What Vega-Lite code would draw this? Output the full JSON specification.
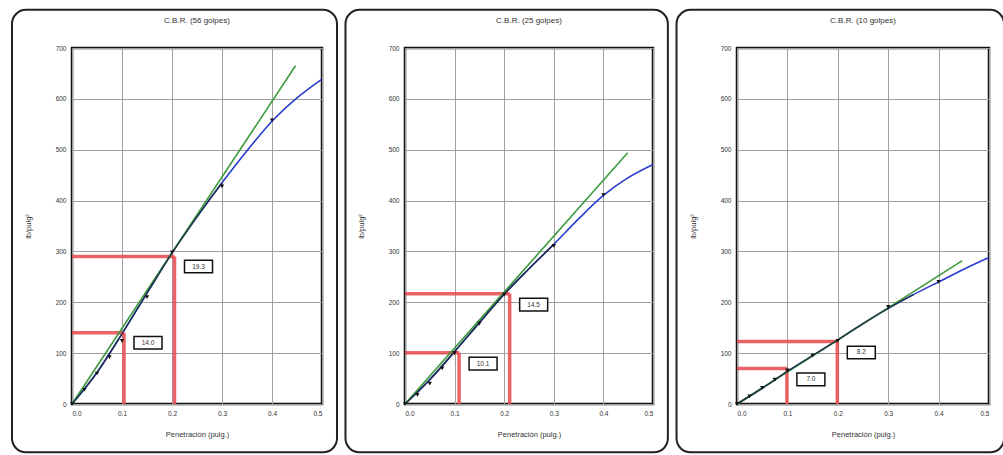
{
  "$schema": "https://vega.github.io/schema/vega-lite/v6.json",
  "padding": {"left": 9, "top": 7, "right": 0, "bottom": 0},
  "background": "white",
  "spacing": 3,
  "datasets": {
    "ensayo": [
      {"panel": "56", "pen": 0, "carga": 0}, {"panel": "56", "pen": 0.025, "carga": 28}, {"panel": "56", "pen": 0.05, "carga": 60}, {"panel": "56", "pen": 0.075, "carga": 92}, {"panel": "56", "pen": 0.1, "carga": 124}, {"panel": "56", "pen": 0.15, "carga": 210}, {"panel": "56", "pen": 0.2, "carga": 298}, {"panel": "56", "pen": 0.3, "carga": 428}, {"panel": "56", "pen": 0.4, "carga": 558},
      {"panel": "25", "pen": 0, "carga": 0}, {"panel": "25", "pen": 0.025, "carga": 18}, {"panel": "25", "pen": 0.05, "carga": 40}, {"panel": "25", "pen": 0.075, "carga": 70}, {"panel": "25", "pen": 0.1, "carga": 100}, {"panel": "25", "pen": 0.15, "carga": 158}, {"panel": "25", "pen": 0.2, "carga": 215}, {"panel": "25", "pen": 0.3, "carga": 311}, {"panel": "25", "pen": 0.4, "carga": 411},
      {"panel": "10", "pen": 0, "carga": 0}, {"panel": "10", "pen": 0.025, "carga": 15}, {"panel": "10", "pen": 0.05, "carga": 32}, {"panel": "10", "pen": 0.075, "carga": 48}, {"panel": "10", "pen": 0.1, "carga": 66}, {"panel": "10", "pen": 0.15, "carga": 95}, {"panel": "10", "pen": 0.2, "carga": 124}, {"panel": "10", "pen": 0.3, "carga": 191}, {"panel": "10", "pen": 0.4, "carga": 240}
    ],
    "curva": [
      {"panel": "56", "pen": 0, "carga": 0}, {"panel": "56", "pen": 0.05, "carga": 62}, {"panel": "56", "pen": 0.1, "carga": 138}, {"panel": "56", "pen": 0.15, "carga": 218}, {"panel": "56", "pen": 0.2, "carga": 297}, {"panel": "56", "pen": 0.25, "carga": 368}, {"panel": "56", "pen": 0.3, "carga": 435}, {"panel": "56", "pen": 0.35, "carga": 498}, {"panel": "56", "pen": 0.4, "carga": 556}, {"panel": "56", "pen": 0.45, "carga": 602}, {"panel": "56", "pen": 0.5, "carga": 639},
      {"panel": "25", "pen": 0, "carga": 0}, {"panel": "25", "pen": 0.05, "carga": 48}, {"panel": "25", "pen": 0.1, "carga": 103}, {"panel": "25", "pen": 0.15, "carga": 160}, {"panel": "25", "pen": 0.2, "carga": 216}, {"panel": "25", "pen": 0.25, "carga": 266}, {"panel": "25", "pen": 0.3, "carga": 314}, {"panel": "25", "pen": 0.35, "carga": 364}, {"panel": "25", "pen": 0.4, "carga": 410}, {"panel": "25", "pen": 0.45, "carga": 445}, {"panel": "25", "pen": 0.5, "carga": 471},
      {"panel": "10", "pen": 0, "carga": 0}, {"panel": "10", "pen": 0.05, "carga": 31}, {"panel": "10", "pen": 0.1, "carga": 64}, {"panel": "10", "pen": 0.15, "carga": 95}, {"panel": "10", "pen": 0.2, "carga": 126}, {"panel": "10", "pen": 0.25, "carga": 158}, {"panel": "10", "pen": 0.3, "carga": 188}, {"panel": "10", "pen": 0.35, "carga": 215}, {"panel": "10", "pen": 0.4, "carga": 240}, {"panel": "10", "pen": 0.45, "carga": 265}, {"panel": "10", "pen": 0.5, "carga": 288}
    ],
    "recta": [
      {"panel": "56", "pen": 0, "carga": 0}, {"panel": "56", "pen": 0.447, "carga": 665},
      {"panel": "25", "pen": 0, "carga": 0}, {"panel": "25", "pen": 0.449, "carga": 494},
      {"panel": "10", "pen": 0, "carga": 0}, {"panel": "10", "pen": 0.447, "carga": 282}
    ],
    "cbr": [
      {"panel": "56", "pen": 0.104, "carga": 140, "cbr": "14.0"}, {"panel": "56", "pen": 0.205, "carga": 290, "cbr": "19.3"},
      {"panel": "25", "pen": 0.109, "carga": 101, "cbr": "10.1"}, {"panel": "25", "pen": 0.211, "carga": 217, "cbr": "14.5"},
      {"panel": "10", "pen": 0.099, "carga": 70, "cbr": "7.0"}, {"panel": "10", "pen": 0.199, "carga": 123, "cbr": "8.2"}
    ]
  },
  "hconcat": [
    {
      "width": 250, "height": 356,
      "title": {"text": "C.B.R. (56 golpes)", "frame": "group", "offset": -16},
      "layer": [
        {"data": {"name": "curva"}, "transform": [{"filter": "datum.panel == '56'"}],
         "mark": {"type": "line", "color": "#2a3bd0", "strokeWidth": 1.6, "interpolate": "monotone"},
         "encoding": {
           "x": {"field": "pen", "type": "quantitative", "scale": {"domain": [0, 0.5], "nice": false}, "axis": {"title": "Penetración (pulg.)", "values": [0, 0.1, 0.2, 0.3, 0.4, 0.5], "format": ".1f"}},
           "y": {"field": "carga", "type": "quantitative", "scale": {"domain": [0, 700], "nice": false}, "axis": {"title": "lb/pulg²", "values": [0, 100, 200, 300, 400, 500, 600, 700]}}}},
        {"data": {"name": "cbr"}, "transform": [{"filter": "datum.panel == '56'"}],
         "mark": {"type": "rule", "color": "#e8474c", "strokeWidth": 3.5, "opacity": 0.85},
         "encoding": {"x": {"field": "pen", "type": "quantitative"}, "x2": {"datum": 0}, "y": {"field": "carga", "type": "quantitative"}}},
        {"data": {"name": "cbr"}, "transform": [{"filter": "datum.panel == '56'"}],
         "mark": {"type": "rule", "color": "#e8474c", "strokeWidth": 3.5, "opacity": 0.85},
         "encoding": {"x": {"field": "pen", "type": "quantitative"}, "y": {"field": "carga", "type": "quantitative"}, "y2": {"datum": 0}}},
        {"data": {"name": "recta"}, "transform": [{"filter": "datum.panel == '56'"}],
         "mark": {"type": "line", "color": "#3c9a3c", "strokeWidth": 1.6},
         "encoding": {"x": {"field": "pen", "type": "quantitative"}, "y": {"field": "carga", "type": "quantitative"}}},
        {"data": {"name": "curva"}, "transform": [{"filter": "datum.panel == '56' && datum.pen < 0.31"}],
         "mark": {"type": "line", "color": "#1a2a3a", "strokeWidth": 1.6, "opacity": 0.8, "interpolate": "monotone"},
         "encoding": {"x": {"field": "pen", "type": "quantitative"}, "y": {"field": "carga", "type": "quantitative"}}},
        {"data": {"name": "ensayo"}, "transform": [{"filter": "datum.panel == '56'"}],
         "mark": {"type": "point", "shape": "triangle-down", "filled": true, "color": "#111", "size": 18, "opacity": 1},
         "encoding": {"x": {"field": "pen", "type": "quantitative"}, "y": {"field": "carga", "type": "quantitative"}}},
        {"data": {"name": "cbr"}, "transform": [{"filter": "datum.panel == '56'"}],
         "mark": {"type": "point", "shape": "M-1,-0.45H1V0.45H-1Z", "filled": true, "fill": "white", "stroke": "#111", "strokeWidth": 1.5, "size": 784, "opacity": 1, "xOffset": 24, "yOffset": 10},
         "encoding": {"x": {"field": "pen", "type": "quantitative"}, "y": {"field": "carga", "type": "quantitative"}}},
        {"data": {"name": "cbr"}, "transform": [{"filter": "datum.panel == '56'"}],
         "mark": {"type": "text", "fontSize": 6.5, "color": "#333", "xOffset": 24, "yOffset": 10, "font": "Liberation Sans"},
         "encoding": {"x": {"field": "pen", "type": "quantitative"}, "y": {"field": "carga", "type": "quantitative"}, "text": {"field": "cbr", "type": "nominal"}}},
        {"data": {"values": [{}]},
         "mark": {"type": "rect", "filled": false, "stroke": "#222", "strokeWidth": 2, "cornerRadius": 14},
         "encoding": {"x": {"datum": -0.12, "type": "quantitative"}, "x2": {"datum": 0.53}, "y": {"datum": 775, "type": "quantitative"}, "y2": {"datum": -95}}}
      ]
    },
    {
      "width": 248, "height": 356,
      "title": {"text": "C.B.R. (25 golpes)", "frame": "group", "offset": -16},
      "layer": [
        {"data": {"name": "curva"}, "transform": [{"filter": "datum.panel == '25'"}],
         "mark": {"type": "line", "color": "#2a3bd0", "strokeWidth": 1.6, "interpolate": "monotone"},
         "encoding": {
           "x": {"field": "pen", "type": "quantitative", "scale": {"domain": [0, 0.5], "nice": false}, "axis": {"title": "Penetración (pulg.)", "values": [0, 0.1, 0.2, 0.3, 0.4, 0.5], "format": ".1f"}},
           "y": {"field": "carga", "type": "quantitative", "scale": {"domain": [0, 700], "nice": false}, "axis": {"title": "lb/pulg²", "values": [0, 100, 200, 300, 400, 500, 600, 700]}}}},
        {"data": {"name": "cbr"}, "transform": [{"filter": "datum.panel == '25'"}],
         "mark": {"type": "rule", "color": "#e8474c", "strokeWidth": 3.5, "opacity": 0.85},
         "encoding": {"x": {"field": "pen", "type": "quantitative"}, "x2": {"datum": 0}, "y": {"field": "carga", "type": "quantitative"}}},
        {"data": {"name": "cbr"}, "transform": [{"filter": "datum.panel == '25'"}],
         "mark": {"type": "rule", "color": "#e8474c", "strokeWidth": 3.5, "opacity": 0.85},
         "encoding": {"x": {"field": "pen", "type": "quantitative"}, "y": {"field": "carga", "type": "quantitative"}, "y2": {"datum": 0}}},
        {"data": {"name": "recta"}, "transform": [{"filter": "datum.panel == '25'"}],
         "mark": {"type": "line", "color": "#3c9a3c", "strokeWidth": 1.6},
         "encoding": {"x": {"field": "pen", "type": "quantitative"}, "y": {"field": "carga", "type": "quantitative"}}},
        {"data": {"name": "curva"}, "transform": [{"filter": "datum.panel == '25' && datum.pen < 0.31"}],
         "mark": {"type": "line", "color": "#1a2a3a", "strokeWidth": 1.6, "opacity": 0.8, "interpolate": "monotone"},
         "encoding": {"x": {"field": "pen", "type": "quantitative"}, "y": {"field": "carga", "type": "quantitative"}}},
        {"data": {"name": "ensayo"}, "transform": [{"filter": "datum.panel == '25'"}],
         "mark": {"type": "point", "shape": "triangle-down", "filled": true, "color": "#111", "size": 18, "opacity": 1},
         "encoding": {"x": {"field": "pen", "type": "quantitative"}, "y": {"field": "carga", "type": "quantitative"}}},
        {"data": {"name": "cbr"}, "transform": [{"filter": "datum.panel == '25'"}],
         "mark": {"type": "point", "shape": "M-1,-0.45H1V0.45H-1Z", "filled": true, "fill": "white", "stroke": "#111", "strokeWidth": 1.5, "size": 784, "opacity": 1, "xOffset": 24, "yOffset": 11},
         "encoding": {"x": {"field": "pen", "type": "quantitative"}, "y": {"field": "carga", "type": "quantitative"}}},
        {"data": {"name": "cbr"}, "transform": [{"filter": "datum.panel == '25'"}],
         "mark": {"type": "text", "fontSize": 6.5, "color": "#333", "xOffset": 24, "yOffset": 11, "font": "Liberation Sans"},
         "encoding": {"x": {"field": "pen", "type": "quantitative"}, "y": {"field": "carga", "type": "quantitative"}, "text": {"field": "cbr", "type": "nominal"}}},
        {"data": {"values": [{}]},
         "mark": {"type": "rect", "filled": false, "stroke": "#222", "strokeWidth": 2, "cornerRadius": 14},
         "encoding": {"x": {"datum": -0.12, "type": "quantitative"}, "x2": {"datum": 0.53}, "y": {"datum": 775, "type": "quantitative"}, "y2": {"datum": -95}}}
      ]
    },
    {
      "width": 252, "height": 356,
      "title": {"text": "C.B.R. (10 golpes)", "frame": "group", "offset": -16},
      "layer": [
        {"data": {"name": "curva"}, "transform": [{"filter": "datum.panel == '10'"}],
         "mark": {"type": "line", "color": "#2a3bd0", "strokeWidth": 1.6, "interpolate": "monotone"},
         "encoding": {
           "x": {"field": "pen", "type": "quantitative", "scale": {"domain": [0, 0.5], "nice": false}, "axis": {"title": "Penetración (pulg.)", "values": [0, 0.1, 0.2, 0.3, 0.4, 0.5], "format": ".1f"}},
           "y": {"field": "carga", "type": "quantitative", "scale": {"domain": [0, 700], "nice": false}, "axis": {"title": "lb/pulg²", "values": [0, 100, 200, 300, 400, 500, 600, 700]}}}},
        {"data": {"name": "cbr"}, "transform": [{"filter": "datum.panel == '10'"}],
         "mark": {"type": "rule", "color": "#e8474c", "strokeWidth": 3.5, "opacity": 0.85},
         "encoding": {"x": {"field": "pen", "type": "quantitative"}, "x2": {"datum": 0}, "y": {"field": "carga", "type": "quantitative"}}},
        {"data": {"name": "cbr"}, "transform": [{"filter": "datum.panel == '10'"}],
         "mark": {"type": "rule", "color": "#e8474c", "strokeWidth": 3.5, "opacity": 0.85},
         "encoding": {"x": {"field": "pen", "type": "quantitative"}, "y": {"field": "carga", "type": "quantitative"}, "y2": {"datum": 0}}},
        {"data": {"name": "recta"}, "transform": [{"filter": "datum.panel == '10'"}],
         "mark": {"type": "line", "color": "#3c9a3c", "strokeWidth": 1.6},
         "encoding": {"x": {"field": "pen", "type": "quantitative"}, "y": {"field": "carga", "type": "quantitative"}}},
        {"data": {"name": "curva"}, "transform": [{"filter": "datum.panel == '10' && datum.pen < 0.36"}],
         "mark": {"type": "line", "color": "#1a2a3a", "strokeWidth": 1.6, "opacity": 0.8, "interpolate": "monotone"},
         "encoding": {"x": {"field": "pen", "type": "quantitative"}, "y": {"field": "carga", "type": "quantitative"}}},
        {"data": {"name": "ensayo"}, "transform": [{"filter": "datum.panel == '10'"}],
         "mark": {"type": "point", "shape": "triangle-down", "filled": true, "color": "#111", "size": 18, "opacity": 1},
         "encoding": {"x": {"field": "pen", "type": "quantitative"}, "y": {"field": "carga", "type": "quantitative"}}},
        {"data": {"name": "cbr"}, "transform": [{"filter": "datum.panel == '10'"}],
         "mark": {"type": "point", "shape": "M-1,-0.45H1V0.45H-1Z", "filled": true, "fill": "white", "stroke": "#111", "strokeWidth": 1.5, "size": 784, "opacity": 1, "xOffset": 24, "yOffset": 11},
         "encoding": {"x": {"field": "pen", "type": "quantitative"}, "y": {"field": "carga", "type": "quantitative"}}},
        {"data": {"name": "cbr"}, "transform": [{"filter": "datum.panel == '10'"}],
         "mark": {"type": "text", "fontSize": 6.5, "color": "#333", "xOffset": 24, "yOffset": 11, "font": "Liberation Sans"},
         "encoding": {"x": {"field": "pen", "type": "quantitative"}, "y": {"field": "carga", "type": "quantitative"}, "text": {"field": "cbr", "type": "nominal"}}},
        {"data": {"values": [{}]},
         "mark": {"type": "rect", "filled": false, "stroke": "#222", "strokeWidth": 2, "cornerRadius": 14},
         "encoding": {"x": {"datum": -0.12, "type": "quantitative"}, "x2": {"datum": 0.53}, "y": {"datum": 775, "type": "quantitative"}, "y2": {"datum": -95}}}
      ]
    }
  ],
  "config": {
    "view": {"stroke": "#111", "strokeWidth": 2.5},
    "title": {"fontSize": 8, "font": "Liberation Sans", "fontWeight": "normal", "color": "#333", "anchor": "middle"},
    "axis": {"grid": true, "gridColor": "#a0a0a0", "gridWidth": 1, "domain": false, "ticks": false, "labelPadding": 6,
             "labelFontSize": 6.5, "titleFontSize": 7.5, "labelFont": "Liberation Sans", "titleFont": "Liberation Sans",
             "labelColor": "#333", "titleColor": "#333", "titleFontWeight": "normal"},
    "axisX": {"titlePadding": 14},
    "axisY": {"titlePadding": 23}
  }
}
